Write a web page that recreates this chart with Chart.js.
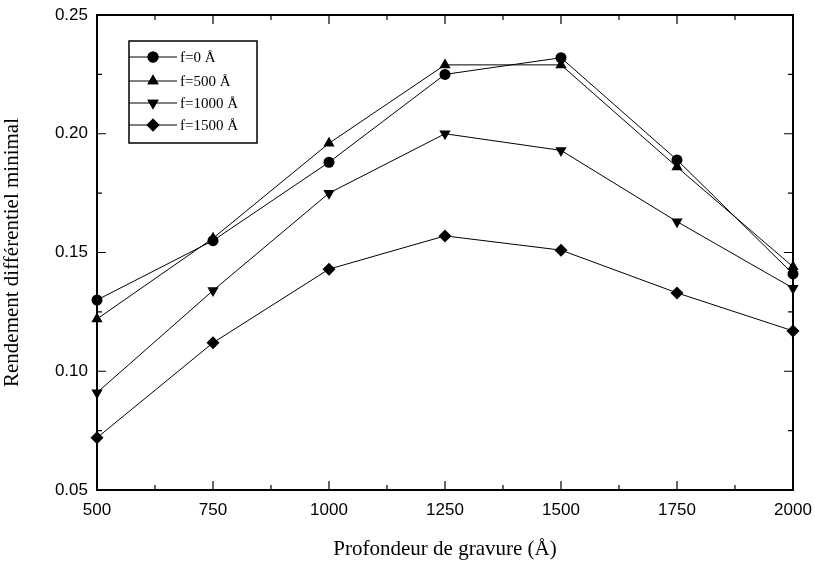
<!DOCTYPE html>
<html>
<head>
<meta charset="utf-8">
<script src="https://cdn.jsdelivr.net/npm/chart.js@4.4.0/dist/chart.umd.min.js"></script>
<style>
  html, body { margin: 0; padding: 0; background: #fff; }
  #wrap { width: 815px; height: 562px; }
</style>
</head>
<body>
<div id="wrap"><canvas id="graphe"></canvas></div>
<script>
// profondeur de gravure (Å)
var profondeurs = [500, 750, 1000, 1250, 1500, 1750, 2000];
var f0 = [0.130, 0.155, 0.188, 0.225, 0.232, 0.189, 0.141];
var f500 = [0.122, 0.156, 0.196, 0.229, 0.229, 0.186, 0.144];
var f1000 = [0.091, 0.134, 0.175, 0.200, 0.193, 0.163, 0.135];
var f1500 = [0.072, 0.112, 0.143, 0.157, 0.151, 0.133, 0.117];
var libelles = ["f=0 Å", "f=500 Å", "f=1000 Å", "f=1500 Å"];
var yTicks = [0.05, 0.10, 0.15, 0.20, 0.25];
var xTicks = [500, 750, 1000, 1250, 1500, 1750, 2000];

var marqueurs = [
  { style: 'circle', rot: 0, r: 5.5 },
  { style: 'triangle', rot: 0, r: 6.5 },
  { style: 'triangle', rot: 180, r: 6.5 },
  { style: 'rectRot', rot: 0, r: 6.5 }
];

function serie(vals) {
  return profondeurs.map((x, i) => ({ x: x, y: vals[i] }));
}

var datasets = [f0, f500, f1000, f1500].map((vals, i) => ({
  label: libelles[i],
  data: serie(vals),
  borderColor: '#000',
  backgroundColor: '#000',
  borderWidth: 1,
  pointStyle: marqueurs[i].style,
  pointRotation: marqueurs[i].rot,
  pointRadius: marqueurs[i].r,
  pointBorderWidth: 0,
  tension: 0,
  clip: false
}));

// petits traits vers l'interieur sur les 4 cotes + cadre
var cadre = {
  id: 'cadre',
  afterDraw(chart) {
    var c = chart.ctx, a = chart.chartArea;
    var sx = chart.scales.x, sy = chart.scales.y;
    c.save();
    c.strokeStyle = '#000';
    c.lineWidth = 2;
    c.strokeRect(a.left, a.top, a.right - a.left, a.bottom - a.top);
    c.lineWidth = 1.2;
    for (var v = 500; v <= 2000; v += 125) {
      var px = sx.getPixelForValue(v);
      var l = (v % 250 === 0) ? 9 : 5;
      c.beginPath();
      c.moveTo(px, a.bottom); c.lineTo(px, a.bottom - l);
      c.moveTo(px, a.top); c.lineTo(px, a.top + l);
      c.stroke();
    }
    for (var k = 0; k <= 8; k++) {
      var val = 0.05 + k * 0.025;
      var py = sy.getPixelForValue(val);
      var l2 = (k % 2 === 0) ? 9 : 5;
      c.beginPath();
      c.moveTo(a.left, py); c.lineTo(a.left + l2, py);
      c.moveTo(a.right, py); c.lineTo(a.right - l2, py);
      c.stroke();
    }
    c.restore();
  }
};

// legende encadree dans le graphe
var legende = {
  id: 'legende',
  afterDraw(chart) {
    var c = chart.ctx;
    var x0 = 129, y0 = 41, w = 128, h = 102;
    c.save();
    c.strokeStyle = '#000';
    c.lineWidth = 1.5;
    c.strokeRect(x0, y0, w, h);
    var lignes = [57, 81, 103, 125];
    c.font = '15px "Liberation Serif", serif';
    c.textBaseline = 'middle';
    c.fillStyle = '#000';
    lignes.forEach((y, i) => {
      c.lineWidth = 1;
      c.beginPath();
      c.moveTo(x0, y); c.lineTo(x0 + 48, y);
      c.stroke();
      var m = marqueurs[i];
      Chart.helpers.drawPoint(c, { pointStyle: m.style, rotation: m.rot, radius: m.r, borderWidth: 0 }, x0 + 24, y);
      c.fill();
      c.fillText(libelles[i], x0 + 51, y + 1);
    });
    c.restore();
  }
};

var ctx = document.getElementById('graphe').getContext('2d');
var graphe = new Chart(ctx, {
  type: 'line',
  data: { datasets: datasets },
  plugins: [cadre, legende],
  options: {
    responsive: true,
    maintainAspectRatio: false,
    animation: false,
    layout: { padding: { top: 15, right: 22, left: 0, bottom: 0 } },
    plugins: {
      legend: { display: false },
      tooltip: { enabled: false }
    },
    scales: {
      x: {
        type: 'linear',
        min: 500,
        max: 2000,
        afterBuildTicks: function(s) { s.ticks = xTicks.map(v => ({ value: v })); },
        afterFit: function(s) { s.height = 72; s.paddingLeft = 0; s.paddingRight = 0; },
        grid: { display: false, drawTicks: false },
        border: { display: false },
        ticks: {
          color: '#000',
          padding: 10,
          maxRotation: 0,
          font: { family: '"Liberation Sans", Arial, sans-serif', size: 17 },
          callback: v => String(v)
        },
        title: {
          display: true,
          text: 'Profondeur de gravure (Å)',
          color: '#000',
          padding: { top: 10, bottom: 0 },
          font: { family: '"Liberation Serif", "Times New Roman", serif', size: 21 }
        }
      },
      y: {
        min: 0.05,
        max: 0.25,
        afterBuildTicks: function(s) { s.ticks = yTicks.map(v => ({ value: v })); },
        afterFit: function(s) { s.width = 97; s.paddingTop = 0; s.paddingBottom = 0; },
        grid: { display: false, drawTicks: false },
        border: { display: false },
        ticks: {
          color: '#000',
          padding: 9,
          font: { family: '"Liberation Sans", Arial, sans-serif', size: 17 },
          callback: v => v.toFixed(2)
        },
        title: {
          display: true,
          text: 'Rendement différentiel minimal',
          color: '#000',
          padding: { top: 0, bottom: 8 },
          font: { family: '"Liberation Serif", "Times New Roman", serif', size: 21 }
        }
      }
    }
  }
});
</script>
</body>
</html>
